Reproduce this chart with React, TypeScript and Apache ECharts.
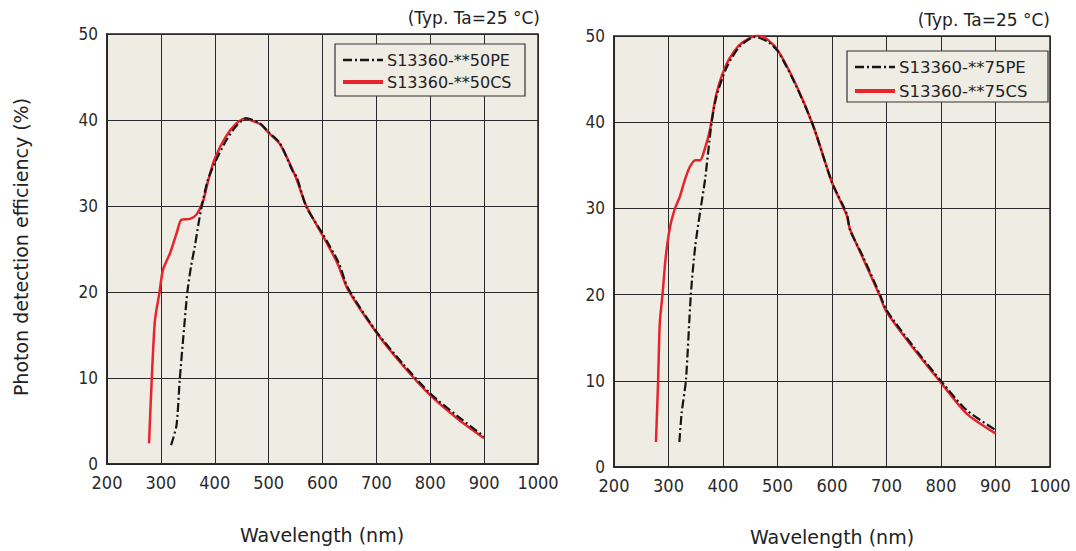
import React, { useEffect, useRef } from "react";
import * as echarts from "echarts";

const xTicks = [200, 300, 400, 500, 600, 700, 800, 900, 1000];
const yTicks = [0, 10, 20, 30, 40, 50];

const leftNames = ["S13360-**50PE", "S13360-**50CS"];
const rightNames = ["S13360-**75PE", "S13360-**75CS"];

const pe50: [number, number][] = [
  [319, 2.2], [329, 4.5], [335, 9.8], [342, 15], [349, 19.9], [356, 23], [363, 25.3], [370, 28],
  [376, 30], [387, 33], [400, 35], [422, 37.7], [440, 39.3], [459, 40.2], [484, 39.6], [500, 38.6],
  [521, 37.3], [545, 34], [552, 33.4], [570, 29.9], [600, 26.8], [630, 23.4], [647, 20.5],
  [700, 15.4], [750, 11.6], [800, 8.2], [850, 5.6], [900, 3.2],
];
const cs50: [number, number][] = [
  [278, 2.4], [283, 9.8], [289, 16.7], [297, 19.8], [304, 22.6], [317, 24.5], [330, 27], [338, 28.4],
  [354, 28.5], [366, 29], [379, 30.7], [388, 33], [400, 35.5], [420, 38], [440, 39.6], [457, 40.2],
  [470, 39.9], [485, 39.5], [500, 38.5], [521, 37.2], [550, 33.4], [570, 30], [600, 26.6],
  [620, 24.3], [630, 23], [647, 20.3], [700, 15.3], [750, 11.4], [800, 8], [850, 5.3], [900, 3],
];
const pe75: [number, number][] = [
  [320, 2.9], [324, 6.2], [332, 10.1], [341, 20], [349, 25.6], [359, 30], [367, 33.3], [379, 39.9],
  [388, 43], [407, 46.4], [431, 48.8], [459, 49.9], [483, 49.3], [501, 48.2], [535, 44.1],
  [566, 39.5], [600, 33], [627, 29.4], [633, 27.5], [657, 24.4], [688, 20], [700, 18.2],
  [749, 14], [801, 9.9], [847, 6.6], [900, 4.3],
];
const cs75: [number, number][] = [
  [277, 2.9], [281, 10.1], [284, 16.7], [289, 20], [295, 24.4], [303, 27.9], [312, 30], [321, 31.4],
  [330, 33.3], [339, 34.8], [349, 35.6], [358, 35.6], [367, 37], [376, 39.1], [388, 43.3],
  [407, 46.8], [431, 49], [465, 50.1], [483, 49.5], [501, 48.3], [535, 44.2], [566, 39.5],
  [600, 33], [627, 29.2], [633, 27.6], [657, 24.2], [688, 19.8], [700, 18], [749, 13.8],
  [801, 9.7], [847, 6.2], [900, 3.9],
];

const BG = "#efece4";
const RED = "#e8232b";
const BLACK = "#151515";
const TICK_FONT = "'DejaVu Sans Condensed', 'Liberation Sans Narrow', 'DejaVu Sans', sans-serif";
const TITLE_FONT = "'DejaVu Sans', Verdana, sans-serif";
const DASH = [9, 3, 2, 3];

function xAxis(gridIndex: number) {
  return {
    type: "value",
    gridIndex,
    min: xTicks[0],
    max: xTicks[xTicks.length - 1],
    interval: 100,
    axisLine: { show: true, lineStyle: { color: "#222", width: 1.5 } },
    axisTick: { show: false },
    axisLabel: { color: "#2a2a2a", fontSize: 18, fontFamily: TICK_FONT, margin: 9, formatter: (v: number) => String(v) },
    splitLine: { show: true, lineStyle: { color: "#2a2a2a", width: 1 } },
  };
}
function yAxis(gridIndex: number) {
  return {
    type: "value",
    gridIndex,
    min: yTicks[0],
    max: yTicks[yTicks.length - 1],
    interval: 10,
    axisLine: { show: true, lineStyle: { color: "#222", width: 1.5 } },
    axisTick: { show: false },
    axisLabel: { color: "#2a2a2a", fontSize: 17, fontFamily: TICK_FONT, margin: 9, formatter: (v: number) => String(v) },
    splitLine: { show: true, lineStyle: { color: "#2a2a2a", width: 1 } },
  };
}

function legendBox(x: number, y: number, w: number, h: number, names: string[], rowGap: number, fs: number) {
  const lx = x + 8;
  const lw = 40;
  const r1 = y + 16;
  const r2 = r1 + rowGap;
  return [
    { type: "rect", shape: { x, y, width: w, height: h }, style: { fill: BG, stroke: "#333", lineWidth: 1.2 }, z: 50 },
    { type: "line", shape: { x1: lx, y1: r1, x2: lx + lw, y2: r1 }, style: { stroke: BLACK, lineWidth: 2.5, lineDash: DASH }, z: 51 },
    { type: "line", shape: { x1: lx, y1: r2, x2: lx + lw, y2: r2 }, style: { stroke: RED, lineWidth: 4 }, z: 51 },
    { type: "text", x: lx + lw + 4, y: r1, style: { text: names[0], fill: "#222", font: `${fs}px ${TITLE_FONT}`, verticalAlign: "middle" }, z: 51 },
    { type: "text", x: lx + lw + 4, y: r2, style: { text: names[1], fill: "#222", font: `${fs}px ${TITLE_FONT}`, verticalAlign: "middle" }, z: 51 },
  ];
}

export default function App() {
  const ref = useRef<HTMLDivElement>(null);
  useEffect(() => {
    if (!ref.current) return;
    const chart = echarts.init(ref.current, null, { renderer: "svg" });
    const mk = (name: string, data: [number, number][], idx: number, red: boolean) => ({
      type: "line",
      name,
      xAxisIndex: idx,
      yAxisIndex: idx,
      data,
      smooth: 0.25,
      showSymbol: false,
      symbol: "none",
      lineStyle: red ? { color: RED, width: 2.5 } : { color: BLACK, width: 2.2, type: DASH },
      z: red ? 3 : 4,
    });
    chart.setOption({
      animation: false,
      backgroundColor: "#ffffff",
      grid: [
        { left: 107, top: 34, width: 431, height: 430, show: true, backgroundColor: BG, borderColor: "#222", borderWidth: 1.5 },
        { left: 614, top: 36, width: 436, height: 431, show: true, backgroundColor: BG, borderColor: "#222", borderWidth: 1.5 },
      ],
      xAxis: [xAxis(0), xAxis(1)],
      yAxis: [yAxis(0), yAxis(1)],
      series: [
        mk(leftNames[1], cs50, 0, true),
        mk(leftNames[0], pe50, 0, false),
        mk(rightNames[1], cs75, 1, true),
        mk(rightNames[0], pe75, 1, false),
      ],
      graphic: [
        ...legendBox(335, 44, 190, 52, leftNames, 22, 16),
        ...legendBox(847, 51, 201, 51, rightNames, 24, 16.5),
        { type: "text", x: 540, y: 18, style: { text: "(Typ. Ta=25 °C)", fill: "#222", font: `17px ${TITLE_FONT}`, align: "right", verticalAlign: "middle" } },
        { type: "text", x: 1050, y: 20, style: { text: "(Typ. Ta=25 °C)", fill: "#222", font: `17px ${TITLE_FONT}`, align: "right", verticalAlign: "middle" } },
        { type: "text", x: 322, y: 535, style: { text: "Wavelength (nm)", fill: "#222", font: `19px ${TITLE_FONT}`, align: "center", verticalAlign: "middle" } },
        { type: "text", x: 832, y: 537, style: { text: "Wavelength (nm)", fill: "#222", font: `19px ${TITLE_FONT}`, align: "center", verticalAlign: "middle" } },
        { type: "text", x: 21, y: 247, rotation: Math.PI / 2, style: { text: "Photon detection efficiency (%)", fill: "#222", font: `19px ${TITLE_FONT}`, align: "center", verticalAlign: "middle" } },
      ],
    });
    return () => chart.dispose();
  }, []);
  return <div ref={ref} style={{ position: "absolute", left: 0, top: 0, width: 1076, height: 551 }} />;
}
